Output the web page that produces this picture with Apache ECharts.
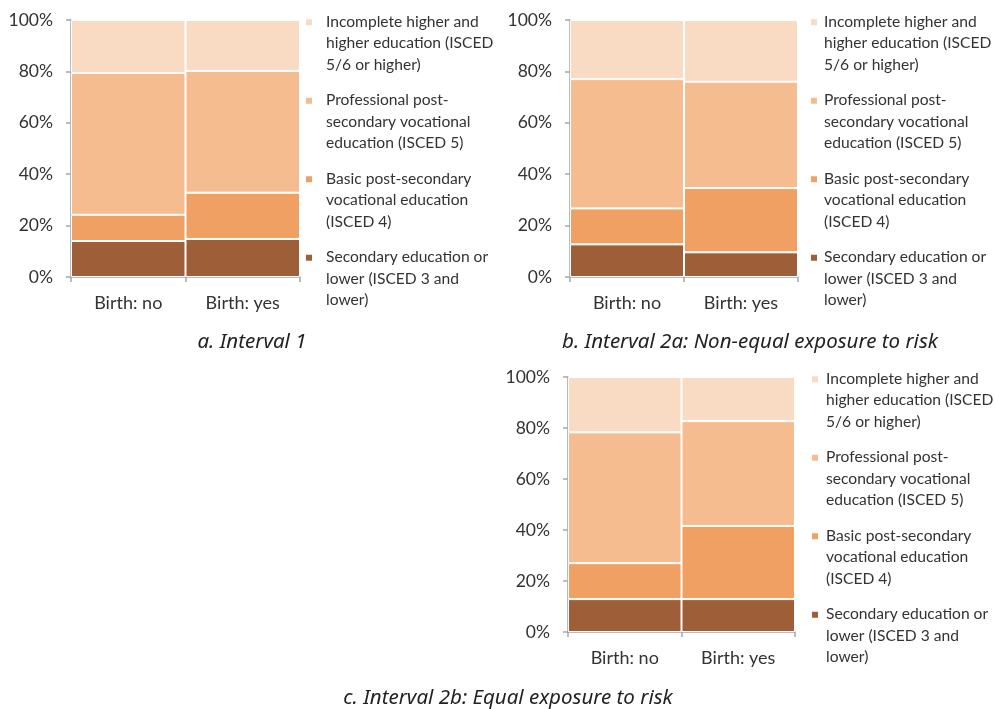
<!DOCTYPE html>
<html>
<head>
<meta charset="utf-8">
<script src="https://cdn.jsdelivr.net/npm/echarts@6/dist/echarts.min.js"></script>
<style>
html,body{margin:0;padding:0;background:#fff;}
#chart{width:995px;height:709px;}
</style>
</head>
<body>
<div id="chart"></div>
<script>
// ---- data ----
var categories = ['Birth: no', 'Birth: yes'];
var seriesNames = [
  'Secondary education or lower (ISCED 3 and lower)',
  'Basic post-secondary vocational education (ISCED 4)',
  'Professional post-secondary vocational education (ISCED 5)',
  'Incomplete higher and higher education (ISCED 5/6 or higher)'
];
var legendLabels = [
  'Secondary education or\nlower (ISCED 3 and\nlower)',
  'Basic post-secondary\nvocational education\n(ISCED 4)',
  'Professional post-\nsecondary vocational\neducation (ISCED 5)',
  'Incomplete higher and\nhigher education (ISCED\n5/6 or higher)'
];
var yTicks = [0, 20, 40, 60, 80, 100];
var panelTitles = [
  'a. Interval 1',
  'b. Interval 2a: Non-equal exposure to risk',
  'c. Interval 2b: Equal exposure to risk'
];
// values per panel, per education level: [Birth: no, Birth: yes] (percent)
var interval1_secondary    = [14.0, 14.8];
var interval1_basic        = [10.2, 18.0];
var interval1_professional = [55.2, 47.4];
var interval1_higher       = [20.6, 19.8];

var interval2a_secondary    = [12.7, 9.6];
var interval2a_basic        = [14.0, 25.0];
var interval2a_professional = [50.3, 41.4];
var interval2a_higher       = [23.0, 24.0];

var interval2b_secondary    = [12.9, 12.9];
var interval2b_basic        = [14.1, 28.7];
var interval2b_professional = [51.3, 41.1];
var interval2b_higher       = [21.7, 17.3];

var panels = [
  [interval1_secondary, interval1_basic, interval1_professional, interval1_higher],
  [interval2a_secondary, interval2a_basic, interval2a_professional, interval2a_higher],
  [interval2b_secondary, interval2b_basic, interval2b_professional, interval2b_higher]
];

// ---- styling ----
var colors = ['#9e5e38', '#f0a062', '#f5bc90', '#f9dbc4'];
var FONT = 'Lato';
var grids = [
  {left: 71, top: 20, width: 229, height: 257},
  {left: 570, top: 20, width: 228, height: 257},
  {left: 568, top: 377, width: 227, height: 255}
];
var legendPos = [
  {left: 304, top: 11, pad: 8},
  {left: 809, top: 11, pad: 1},
  {left: 810, top: 368, pad: 2}
];
var titlePos = [
  {x: 252, y: 332},
  {x: 750, y: 332},
  {x: 508, y: 688}
];
// legend marker: small square aligned with the first text line
var legendIcon = 'path://M0,0h8v8h-8z M0,49.99h0.01v0.01h-0.01z';

var chart = echarts.init(document.getElementById('chart'), null, {renderer: 'canvas'});

var option = {
  animation: false,
  backgroundColor: '#ffffff',
  grid: grids.map(function (g) { return Object.assign({containLabel: false}, g); }),
  title: panelTitles.map(function (t, i) {
    return {
      text: t, left: titlePos[i].x, top: titlePos[i].y, textAlign: 'center', padding: 0,
      textStyle: {fontFamily: 'Noto Sans', fontStyle: 'italic', fontWeight: 'normal', fontSize: 20.5, color: '#222'}
    };
  }),
  xAxis: grids.map(function (g, i) {
    return {
      type: 'category', gridIndex: i, data: categories,
      axisLine: {lineStyle: {color: '#a6a6a6', width: 1.5}},
      axisTick: {show: true, alignWithLabel: false, length: 5, lineStyle: {color: '#a6a6a6', width: 1.5}},
      axisLabel: {fontFamily: FONT, fontSize: 18, color: '#333', margin: 17}
    };
  }),
  yAxis: grids.map(function (g, i) {
    return {
      type: 'value', gridIndex: i, min: yTicks[0], max: yTicks[yTicks.length - 1], interval: 20,
      axisLine: {show: true, lineStyle: {color: '#a6a6a6', width: 1.5}},
      axisTick: {show: true, length: 5, lineStyle: {color: '#a6a6a6', width: 1.5}},
      splitLine: {show: false},
      axisLabel: {fontFamily: FONT, fontSize: 17.5, color: '#333', margin: 18, formatter: '{value}%'}
    };
  }),
  legend: legendPos.map(function (p, i) {
    return {
      orient: 'vertical', left: p.left, top: p.top, padding: 0,
      data: seriesNames.slice().reverse(),
      itemWidth: 8, itemHeight: 50, itemGap: 14,
      icon: legendIcon,
      selectedMode: false,
      formatter: function (name) { return legendLabels[seriesNames.indexOf(name)]; },
      textStyle: {fontFamily: FONT, fontSize: 15.6, color: '#333', lineHeight: 21.5, padding: [0, 0, 0, p.pad]}
    };
  }),
  series: []
};

panels.forEach(function (vals, pi) {
  vals.forEach(function (arr, si) {
    option.series.push({
      type: 'bar', name: seriesNames[si], stack: 'p' + pi,
      xAxisIndex: pi, yAxisIndex: pi,
      barCategoryGap: '0%', barWidth: '100%',
      data: arr,
      itemStyle: {color: colors[si], borderColor: '#ffffff', borderWidth: 1},
      emphasis: {disabled: true}
    });
  });
});

chart.setOption(option);
</script>
</body>
</html>
